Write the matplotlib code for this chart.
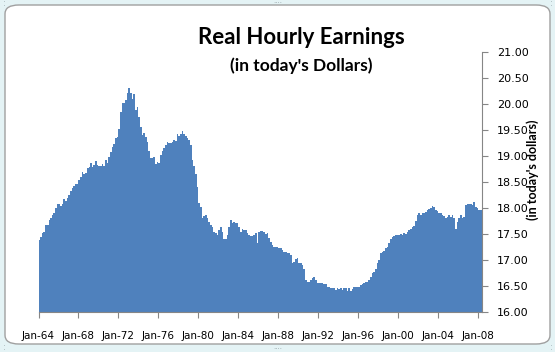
# Real hourly earnings, area chart in the style of an Excel 2007 chart
import numpy as np
import pandas as pd
import matplotlib
matplotlib.use('Agg')
import matplotlib.pyplot as plt
import matplotlib.dates as mdates
from matplotlib.patches import FancyBboxPatch

# values read every two months, starting Jan 1964
start = '1964-01-01'
earnings_1964_1988 = [
    17.38, 17.44, 17.51, 17.54, 17.66, 17.66, 17.76, 17.80, 17.86, 17.90,
    17.99, 18.08, 18.08, 18.04, 18.07, 18.17, 18.12, 18.18, 18.24, 18.32,
    18.37, 18.42, 18.45, 18.45, 18.53, 18.60, 18.69, 18.64, 18.66, 18.76,
    18.79, 18.86, 18.79, 18.82, 18.90, 18.82, 18.80, 18.80, 18.84, 18.80,
    18.92, 18.86, 18.98, 19.08, 19.17, 19.22, 19.35, 19.36, 19.51, 19.84,
    20.01, 20.01, 20.07, 20.20, 20.30, 20.20, 20.10, 20.19, 19.88, 19.94,
    19.75, 19.56, 19.40, 19.43, 19.36, 19.27, 19.10, 18.95, 18.95, 18.97,
    18.84, 18.87, 18.86, 19.01, 19.10, 19.14, 19.21, 19.27, 19.25, 19.24,
    19.27, 19.30, 19.28, 19.41, 19.38, 19.42, 19.48, 19.41, 19.38, 19.34,
    19.30, 19.21, 18.92, 18.80, 18.65, 18.40, 18.09, 18.02, 17.80, 17.84,
    17.86, 17.81, 17.73, 17.67, 17.63, 17.54, 17.51, 17.48, 17.57, 17.63,
    17.54, 17.39, 17.39, 17.48, 17.63, 17.76, 17.71, 17.73, 17.70, 17.71,
    17.63, 17.54, 17.60, 17.57, 17.58, 17.51, 17.48, 17.46, 17.46, 17.48,
    17.51, 17.32, 17.54, 17.56, 17.56, 17.54, 17.50, 17.52, 17.41, 17.35,
    17.29, 17.25, 17.25, 17.25, 17.22,
]
earnings_1988_2008 = [
    17.22, 17.19, 17.15, 17.15, 17.12, 17.12, 17.09, 16.93, 16.96, 17.01,
    17.03, 16.94, 16.93, 16.90, 16.83, 16.61, 16.58, 16.57, 16.61, 16.64,
    16.66, 16.61, 16.56, 16.55, 16.55, 16.55, 16.54, 16.53, 16.48, 16.47,
    16.45, 16.45, 16.45, 16.42, 16.45, 16.43, 16.46, 16.42, 16.45, 16.45,
    16.40, 16.45, 16.39, 16.43, 16.48, 16.47, 16.48, 16.47, 16.52, 16.54,
    16.55, 16.58, 16.58, 16.61, 16.67, 16.74, 16.77, 16.83, 16.93, 16.99,
    17.12, 17.15, 17.17, 17.22, 17.25, 17.32, 17.39, 17.44, 17.46, 17.47,
    17.47, 17.47, 17.49, 17.47, 17.52, 17.49, 17.53, 17.58, 17.59, 17.63,
    17.65, 17.74, 17.86, 17.89, 17.86, 17.90, 17.90, 17.92, 17.95, 17.97,
    17.99, 18.03, 18.02, 17.95, 17.94, 17.90, 17.89, 17.86, 17.84, 17.81,
    17.83, 17.86, 17.83, 17.86, 17.80, 17.60, 17.73, 17.80, 17.86, 17.81,
    17.83, 18.05, 18.08, 18.07, 18.08, 18.05, 18.11, 18.02, 17.99, 17.95,
    17.95,
]
earnings = np.array(earnings_1964_1988 + earnings_1988_2008)
tick_years = list(range(1964, 2009, 4))

edges = pd.date_range(start, periods=len(earnings) + 1, freq='2MS')
edges_num = mdates.date2num(edges)

fig = plt.figure(figsize=(5.55, 3.52), dpi=100)
fig.patch.set_facecolor('#E4F3F5')

# chart area with rounded corners
frame = FancyBboxPatch((5 / 555, 8 / 352), 545 / 555, 339 / 352,
                       boxstyle='round,pad=0,rounding_size=0.025',
                       transform=fig.transFigure, facecolor='white',
                       edgecolor='#A0A0A0', linewidth=1.0, zorder=-5)
fig.patches.append(frame)

ax = fig.add_axes([38.5 / 555, 40.3 / 352, 443.2 / 555, 260 / 352])
ax.set_zorder(2)
ax.set_facecolor('none')
ax.stairs(earnings, edges_num, baseline=16, fill=True, color='#4F81BD', lw=0)

ax.set_ylim(16, 21)
ax.set_xlim(edges_num[0], edges_num[-1])
ax.yaxis.tick_right()
ax.set_yticks(np.arange(16, 21.01, 0.5))
ax.yaxis.set_major_formatter(plt.FuncFormatter(lambda v, p: f'{v:.2f}'))

ticks = [mdates.date2num(pd.Timestamp(f'{y}-01-01')) for y in tick_years]
ax.set_xticks(ticks)
ax.set_xticklabels([f'Jan-{y % 100:02d}' for y in tick_years])

for s in ['top', 'left']:
    ax.spines[s].set_visible(False)
ax.spines['right'].set_color('#868686')
ax.spines['bottom'].set_color('#868686')
ax.tick_params(axis='y', colors='#868686', labelcolor='black', length=4,
               labelsize=8, pad=7)
ax.tick_params(axis='x', colors='#868686', labelcolor='black', length=4,
               labelsize=7.5, pad=10)

ax.set_ylabel("(in today's dollars)", fontfamily='Lato', fontweight='bold',
              fontsize=9, rotation=90)
ax.yaxis.set_label_position('right')
ax.yaxis.set_label_coords(1.10, 0.545)

fig.text(301 / 555, 1 - 37 / 352, 'Real Hourly Earnings', ha='center',
         va='center', fontfamily='Lato', fontweight='bold', fontsize=16)
fig.text(301 / 555, 1 - 66 / 352, "(in today's Dollars)", ha='center',
         va='center', fontfamily='Lato', fontweight='bold', fontsize=12.5)

# resize handles of the chart frame
for x, y in [(277.5, 3), (277.5, 349)]:
    fig.text(x / 555, 1 - y / 352, '····', ha='center', va='center',
             fontsize=5, color='#9AA8AC')
for x, y in [(4, 4), (551, 347), (4, 347), (551, 4)]:
    fig.text(x / 555, 1 - y / 352, ':', ha='center', va='center',
             fontsize=6, color='#9AA8AC')

fig.savefig('out.png', dpi=100)
